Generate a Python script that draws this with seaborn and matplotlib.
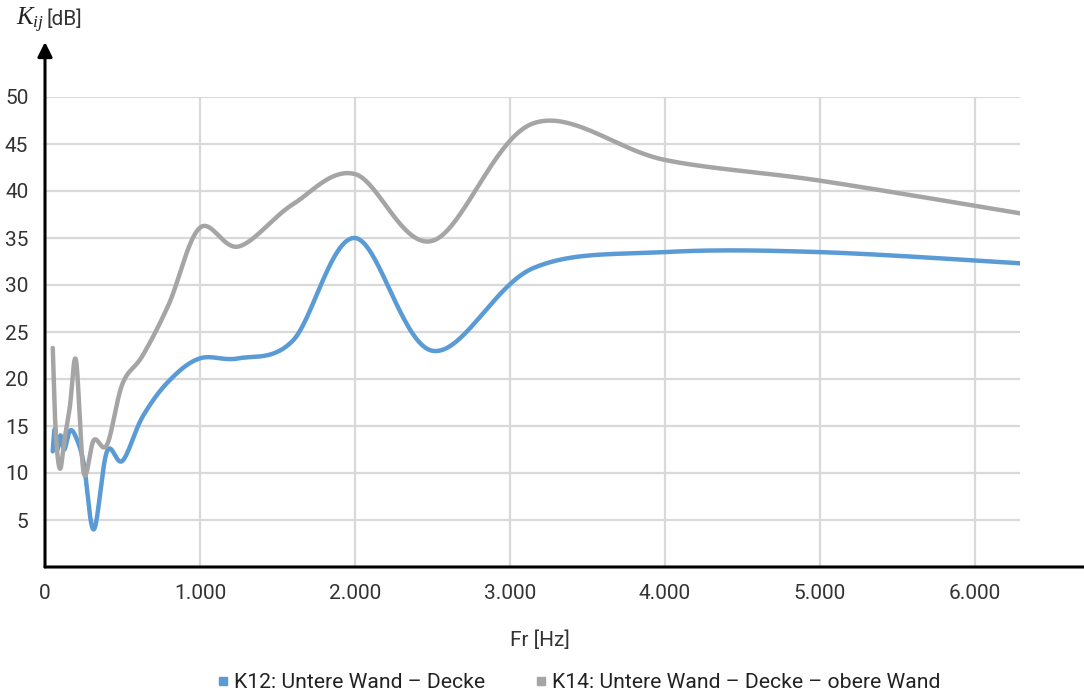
import numpy as np
import pandas as pd
import seaborn as sns
import matplotlib.pyplot as plt
from matplotlib.lines import Line2D

# third-octave band centre frequencies
freq = [50, 63, 80, 100, 125, 160, 200, 250, 315, 400, 500, 630, 800,
        1000, 1250, 1600, 2000, 2500, 3150, 4000, 5000, 6300]
k12 = [12.3, 14.7, 12.5, 14.0, 12.5, 14.5, 13.8, 11.0, 4.0, 12.3, 11.3, 16.0, 19.8,
       22.2, 22.2, 24.1, 35.0, 23.0, 31.8, 33.5, 33.5, 32.3]
k14 = [23.3, 16.5, 12.0, 10.5, 13.5, 17.0, 22.0, 10.0, 13.5, 13.0, 19.5, 22.5, 28.0,
       36.1, 34.1, 38.6, 41.8, 34.7, 47.2, 43.3, 41.1, 37.6]
labels = ['K12: Untere Wand – Decke', 'K14: Untere Wand – Decke – obere Wand']
colors = ['#5b9bd5', '#a5a5a5']
xticks = [0, 1000, 2000, 3000, 4000, 5000, 6000]
xticklabels = ['0', '1.000', '2.000', '3.000', '4.000', '5.000', '6.000']
yticks = [5, 10, 15, 20, 25, 30, 35, 40, 45, 50]


def smooth(x, y, n=40):
    # Excel-like smoothed line (Catmull-Rom bezier in screen-ish space)
    sx, sy = 155.0 / 1000.0, 9.4
    p = np.column_stack([np.asarray(x, float) * sx, np.asarray(y, float) * sy])
    pts = []
    for i in range(len(p) - 1):
        p0 = p[i - 1] if i > 0 else p[i]
        p3 = p[i + 2] if i + 2 < len(p) else p[i + 1]
        c1 = p[i] + (p[i + 1] - p0) / 6
        c2 = p[i + 1] - (p3 - p[i]) / 6
        t = np.linspace(0, 1, n)[:, None]
        seg = ((1 - t) ** 3) * p[i] + 3 * ((1 - t) ** 2) * t * c1 + 3 * (1 - t) * t ** 2 * c2 + t ** 3 * p[i + 1]
        pts.append(seg if i == 0 else seg[1:])
    pts = np.vstack(pts)
    return pts[:, 0] / sx, pts[:, 1] / sy


sns.set_theme(style='white')
plt.rcParams['font.family'] = ['Roboto', 'DejaVu Sans']
plt.rcParams['mathtext.fontset'] = 'custom'
plt.rcParams['mathtext.it'] = 'Liberation Serif:italic'
plt.rcParams['mathtext.rm'] = 'Roboto'

fig = plt.figure(figsize=(10.84, 6.97), dpi=100)
ax = fig.add_axes([45 / 1084, 130 / 697, 975 / 1084, 470 / 697])

frames = []
for lab, vals in zip(labels, [k12, k14]):
    sx_, sy_ = smooth(freq, vals)
    frames.append(pd.DataFrame({'Fr': sx_, 'K': sy_, 'Serie': lab}))
df = pd.concat(frames, ignore_index=True)

sns.lineplot(data=df, x='Fr', y='K', hue='Serie', palette=colors, sort=False,
             linewidth=3.2, legend=False, ax=ax, zorder=3)

ax.set_xlim(0, 6290)
ax.set_ylim(0, 50)
ax.set_xticks(xticks)
ax.set_xticklabels(xticklabels)
ax.set_yticks(yticks)
ax.tick_params(axis='both', length=0, labelsize=15, colors='#333333')
ax.tick_params(axis='x', pad=12)
ax.tick_params(axis='y', pad=12)
ax.grid(True, color='#d9d9d9', linewidth=1.6)
ax.set_axisbelow(True)
for s in ['top', 'right', 'left', 'bottom']:
    ax.spines[s].set_visible(False)
ax.set_xlabel('')
ax.set_ylabel('')

# axis arrows
ax.annotate('', xy=(1060 / 975, 0), xytext=(0, 0), xycoords='axes fraction',
            arrowprops=dict(arrowstyle='-|>', color='black', lw=2.2, mutation_scale=22,
                            shrinkA=0, shrinkB=0), annotation_clip=False)
ax.annotate('', xy=(0, 525 / 470), xytext=(0, 0), xycoords='axes fraction',
            arrowprops=dict(arrowstyle='-|>', color='black', lw=2.2, mutation_scale=22,
                            shrinkA=0, shrinkB=0), annotation_clip=False)

fig.text(16 / 1084, 1 - 20 / 697, r'$K_{ij}$', fontsize=18, va='center', ha='left', color='#222222')
fig.text(46 / 1084, 1 - 19 / 697, '[dB]', fontsize=15, va='center', ha='left', color='#333333')
fig.text(540 / 1084, 1 - 640 / 697, 'Fr [Hz]', fontsize=15, ha='center', va='center', color='#333333')

handles = [Line2D([], [], marker='s', linestyle='', color=c, markersize=5.5) for c in colors]
fig.legend(handles, labels, loc='center', bbox_to_anchor=(577 / 1084, 1 - 683 / 697), ncol=2,
           frameon=False, fontsize=15.2, handletextpad=0.05, columnspacing=2.2, handlelength=0.9,
           labelcolor='#222222')

fig.savefig('out.png', dpi=100)
